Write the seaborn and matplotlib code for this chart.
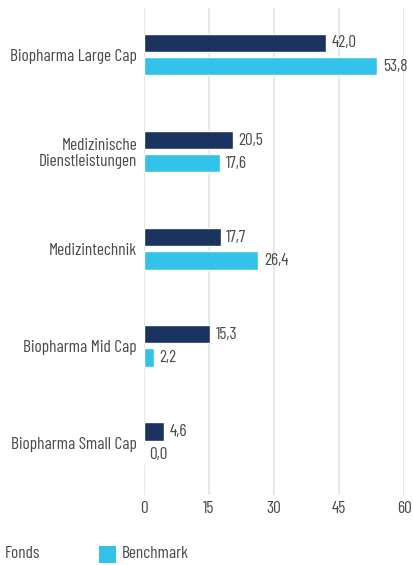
import matplotlib
matplotlib.use("Agg")
import matplotlib.pyplot as plt
import seaborn as sns
import pandas as pd

categories = ["Biopharma Large Cap", "Medizinische\nDienstleistungen", "Medizintechnik",
              "Biopharma Mid Cap", "Biopharma Small Cap"]
fonds = [42.0, 20.5, 17.7, 15.3, 4.6]
benchmark = [53.8, 17.6, 26.4, 2.2, 0.0]
series = ["Fonds", "Benchmark"]
xticks = [0, 15, 30, 45, 60]

sns.set_theme(style="white")
plt.rcParams['font.family'] = ["Barlow Condensed", "DejaVu Sans"]

df = pd.DataFrame({
    "cat": categories * 2,
    "val": fonds + benchmark,
    "series": [series[0]] * 5 + [series[1]] * 5,
})

dark = "#1b335f"
light = "#33c3e8"
txt = "#4a4a4a"
fs = 12.5

fig = plt.figure(figsize=(4.14, 5.65), dpi=100)
ax = fig.add_axes([144 / 414, 1 - 495 / 565, 260 / 414, 487 / 565])
sns.barplot(data=df, y="cat", x="val", hue="series", order=categories,
            palette=[dark, light], orient="h", width=0.477, gap=0.21,
            ax=ax, legend=False, saturation=1)

ax.set_xlim(0, 60)
ax.set_ylim(4.535, -0.479)
ax.set_xticks(xticks)
ax.set_xticklabels([str(t) for t in xticks])
ax.grid(axis="x", color="#e8e8e8", linewidth=1.5)
ax.set_axisbelow(True)
for s in ax.spines.values():
    s.set_visible(False)
ax.set_xlabel("")
ax.set_ylabel("")
ax.tick_params(axis="x", length=0, pad=4, labelsize=fs, labelcolor=txt)
ax.tick_params(axis="y", length=0, pad=5, labelsize=fs, labelcolor=txt)
for lab in ax.get_yticklabels():
    lab.set_horizontalalignment("right")
    lab.set_multialignment("right")
    lab.set_linespacing(1.1)

for cont in ax.containers:
    labels = [f"{b.get_width():.1f}".replace(".", ",") for b in cont]
    ax.bar_label(cont, labels=labels, padding=4, fontsize=fs, color=txt)

fig.text(5 / 414, 1 - 554 / 565, "Fonds", fontsize=fs, color=txt, va="center")
fig.patches.append(plt.Rectangle((99 / 414, 1 - 563 / 565), 17 / 414, 17 / 565,
                                 transform=fig.transFigure, facecolor=light, edgecolor="none"))
fig.text(122 / 414, 1 - 554 / 565, "Benchmark", fontsize=fs, color=txt, va="center")

fig.savefig("out.png", dpi=100)
